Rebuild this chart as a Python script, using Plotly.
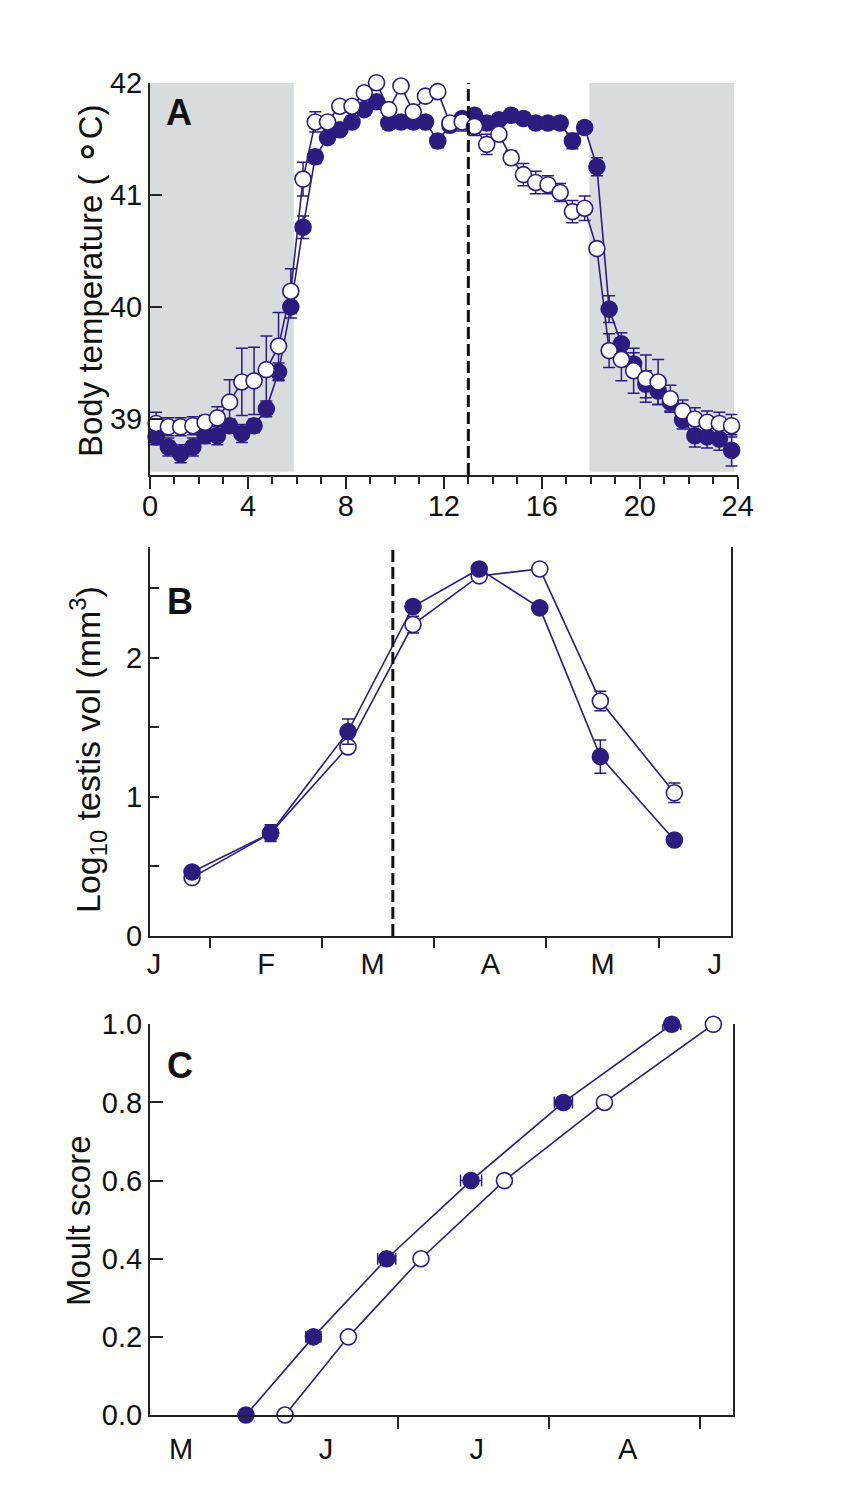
import plotly.graph_objects as go

# ---------------- Panel A data (body temperature, hours) ----------------
hours = [0.25, 0.75, 1.25, 1.75, 2.25, 2.75, 3.25, 3.75, 4.25, 4.75, 5.25, 5.75,
         6.25, 6.75, 7.25, 7.75, 8.25, 8.75, 9.25, 9.75, 10.25, 10.75, 11.25, 11.75,
         12.25, 12.75, 13.25, 13.75, 14.25, 14.75, 15.25, 15.75, 16.25, 16.75, 17.25, 17.75,
         18.25, 18.75, 19.25, 19.75, 20.25, 20.75, 21.25, 21.75, 22.25, 22.75, 23.25, 23.75]
tb_filled = [38.84, 38.75, 38.69, 38.75, 38.85, 38.85, 38.94, 38.87, 38.94, 39.09, 39.42, 40.00,
             40.71, 41.34, 41.51, 41.58, 41.65, 41.76, 41.83, 41.64, 41.65, 41.65, 41.65, 41.48,
             41.62, 41.68, 41.71, 41.64, 41.67, 41.71, 41.68, 41.64, 41.64, 41.64, 41.48, 41.60,
             41.25, 39.98, 39.67, 39.49, 39.31, 39.25, 39.15, 38.99, 38.85, 38.84, 38.82, 38.72]
tb_filled_err = [0.07, 0.08, 0.08, 0.08, 0.07, 0.08, 0.06, 0.08, 0.06, 0.07, 0.08, 0.10,
                 0.10, 0.06, 0.05, 0.05, 0.05, 0.05, 0.05, 0.05, 0.05, 0.05, 0.05, 0.06,
                 0.05, 0.05, 0.05, 0.05, 0.05, 0.05, 0.05, 0.05, 0.05, 0.05, 0.07, 0.05,
                 0.08, 0.12, 0.10, 0.10, 0.12, 0.12, 0.08, 0.08, 0.10, 0.10, 0.10, 0.14]
tb_open = [38.96, 38.93, 38.93, 38.94, 38.97, 39.01, 39.15, 39.33, 39.34, 39.44, 39.65, 40.14,
           41.14, 41.65, 41.65, 41.79, 41.79, 41.91, 42.00, 41.76, 41.97, 41.74, 41.88, 41.92,
           41.64, 41.65, 41.61, 41.45, 41.54, 41.33, 41.18, 41.11, 41.09, 41.02, 40.85, 40.88,
           40.52, 39.61, 39.53, 39.43, 39.36, 39.33, 39.18, 39.07, 39.00, 38.97, 38.96, 38.94]
tb_open_err = [0.10, 0.08, 0.08, 0.08, 0.06, 0.10, 0.20, 0.30, 0.30, 0.30, 0.30, 0.20,
               0.15, 0.09, 0.05, 0.05, 0.05, 0.05, 0.05, 0.05, 0.05, 0.05, 0.05, 0.05,
               0.05, 0.08, 0.08, 0.09, 0.05, 0.06, 0.10, 0.10, 0.08, 0.08, 0.10, 0.11,
               0.05, 0.15, 0.19, 0.20, 0.21, 0.20, 0.12, 0.10, 0.10, 0.10, 0.10, 0.10]
dark_periods = [(0.0, 5.87), (17.94, 23.85)]
a_marker_hour = 13.0
a_xticks = [0, 4, 8, 12, 16, 20, 24]
a_yticks = [39, 40, 41, 42]

# ---------------- Panel B data (log10 testis volume, months) ----------------
b_month = [0.84, 1.54, 2.23, 2.81, 3.40, 3.94, 4.48, 5.14]
b_filled = [0.46, 0.74, 1.47, 2.37, 2.64, 2.36, 1.29, 0.69]
b_filled_err = [0.02, 0.06, 0.09, 0.03, 0.03, 0.02, 0.12, 0.02]
b_open = [0.42, 0.74, 1.36, 2.24, 2.59, 2.64, 1.69, 1.03]
b_open_err = [0.02, 0.05, 0.03, 0.06, 0.03, 0.03, 0.07, 0.07]
b_marker_month = 2.63
b_month_labels = ["J", "F", "M", "A", "M", "J"]
b_label_pos = [0.5, 1.5, 2.45, 3.5, 4.5, 5.5]
b_month_bounds = [1, 2, 3, 4, 5]

# ---------------- Panel C data (moult score, months) ----------------
moult_score = [0.0, 0.2, 0.4, 0.6, 0.8, 1.0]
c_filled_t = [-0.01, 0.437, 0.923, 1.482, 2.094, 2.812]
c_filled_err = [0.03, 0.05, 0.06, 0.07, 0.06, 0.06]
c_open_t = [0.249, 0.669, 1.15, 1.703, 2.366, 3.088]
c_open_err = [0.02, 0.02, 0.03, 0.03, 0.03, 0.04]
c_month_labels = ["M", "J", "J", "A"]
c_label_pos = [-0.44, 0.52, 1.52, 2.52]
c_month_bounds = [1, 2, 3]

# ---------------- styling ----------------
W, H = 845, 1512
BLUE = "#2d1b7f"
AX = "#222222"
FONT = "Liberation Sans, Arial, sans-serif"
TICKF = dict(family=FONT, size=29, color="#111")


def px_x(p):
    return p / W


def px_y(p):
    return 1 - p / H


fig = go.Figure()


def series(x, y, err, filled, xa, ya, size, horiz=False):
    eb = dict(type="data", array=err, visible=True, color=BLUE, thickness=1.5, width=6)
    kw = dict(error_x=eb) if horiz else dict(error_y=eb)
    fig.add_trace(go.Scatter(
        x=x, y=y, mode="lines+markers", xaxis=xa, yaxis=ya,
        line=dict(color=BLUE, width=1.6),
        marker=dict(symbol="circle", size=size,
                    color=BLUE if filled else "white",
                    line=dict(color=BLUE, width=1.6)),
        cliponaxis=False, showlegend=False, hoverinfo="skip", **kw))


# Panel A: filled first, open on top
series(hours, tb_filled, tb_filled_err, True, "x", "y", 16)
series(hours, tb_open, tb_open_err, False, "x", "y", 16)
# Panel B: open first, filled on top
series(b_month, b_open, b_open_err, False, "x2", "y2", 16)
series(b_month, b_filled, b_filled_err, True, "x2", "y2", 16)
# Panel C
series(c_filled_t, moult_score, c_filled_err, True, "x3", "y3", 16, horiz=True)
series(c_open_t, moult_score, c_open_err, False, "x3", "y3", 16, horiz=True)

shapes = []
for x0, x1 in dark_periods:
    shapes.append(dict(type="rect", xref="x", yref="y", x0=x0, x1=x1, y0=38.53, y1=42.0,
                       fillcolor="#d9dcdc", line=dict(width=0), layer="below"))
shapes.append(dict(type="line", xref="x", yref="y", x0=a_marker_hour, x1=a_marker_hour,
                   y0=38.5, y1=42.0, line=dict(color="#111", width=3, dash="12px,5px")))
shapes.append(dict(type="line", xref="x2", yref="y2", x0=b_marker_month, x1=b_marker_month,
                   y0=0, y1=2.8, line=dict(color="#111", width=3, dash="12px,5px")))

common_ax = dict(showline=True, linecolor=AX, linewidth=2, showgrid=False, zeroline=False,
                 tickcolor=AX, tickwidth=2, tickfont=TICKF, automargin=False)

dA = [px_x(150), px_x(737.7)]
dB = [px_x(150), px_x(731)]
dC = [px_x(150), px_x(733.3)]

fig.update_layout(
    width=W, height=H,
    margin=dict(l=0, r=0, t=0, b=0),
    paper_bgcolor="#fefefc", plot_bgcolor="rgba(0,0,0,0)",
    template="none",
    shapes=shapes,
    xaxis=dict(common_ax, domain=dA, anchor="y", range=[0, 24], tickvals=a_xticks,
               ticks="outside", ticklen=12, ticklabelstandoff=-8,
               minor=dict(dtick=1, tick0=0, ticks="outside", ticklen=7,
                          tickcolor=AX, tickwidth=1.5)),
    yaxis=dict(common_ax, domain=[px_y(475), px_y(82.7)], anchor="x", range=[38.5, 42],
               tickvals=a_yticks, ticks="inside", ticklen=12),
    xaxis2=dict(common_ax, domain=dB, anchor="y2", range=[0.465, 5.645],
                tickvals=b_label_pos, ticktext=b_month_labels, ticks="outside", ticklen=1,
                tickcolor="rgba(0,0,0,0)",
                minor=dict(tickvals=b_month_bounds, ticks="outside", ticklen=10,
                           tickcolor=AX, tickwidth=2)),
    yaxis2=dict(common_ax, domain=[px_y(936), px_y(546.7)], anchor="x2", range=[0, 2.8],
                tickvals=[0, 1, 2], ticks="inside", ticklen=9, mirror=True,
                minor=dict(tickvals=[0.5, 1.5, 2.5], ticks="inside", ticklen=9,
                           tickcolor=AX, tickwidth=2)),
    xaxis3=dict(common_ax, domain=dC, anchor="y3", range=[-0.646, 3.22],
                tickvals=c_label_pos, ticktext=c_month_labels, ticks="outside", ticklen=7,
                tickcolor="rgba(0,0,0,0)",
                minor=dict(tickvals=c_month_bounds, ticks="outside", ticklen=12,
                           tickcolor=AX, tickwidth=2)),
    yaxis3=dict(common_ax, domain=[px_y(1415), px_y(1024.3)], anchor="x3", range=[0, 1.0],
                tickvals=moult_score, tickformat=".1f", ticks="inside", ticklen=13, mirror=True),
)

ann = []
for letter, cx, cy in [("A", 179, 112), ("B", 180, 601), ("C", 180, 1065)]:
    ann.append(dict(text="<b>%s</b>" % letter, x=px_x(cx), y=px_y(cy), xref="paper", yref="paper",
                    showarrow=False, xanchor="center", yanchor="middle",
                    font=dict(family=FONT, size=36, color="#111")))
for txt, cx, cy, sz in [("Body temperature ( <span style='font-size:42px'>\u2218</span>C)", 88, 281, 33),
                        ("Log<sub>10</sub> testis vol (mm<sup>3</sup>)", 88, 750, 34),
                        ("Moult score", 78, 1221, 33)]:
    ann.append(dict(text=txt, x=px_x(cx), y=px_y(cy), xref="paper", yref="paper",
                    showarrow=False, xanchor="center", yanchor="middle", textangle=-90,
                    font=dict(family=FONT, size=sz, color="#111")))
fig.update_layout(annotations=ann)

fig.write_html("out.html", config={"displayModeBar": False},
               post_script="document.body.style.margin='0';")
